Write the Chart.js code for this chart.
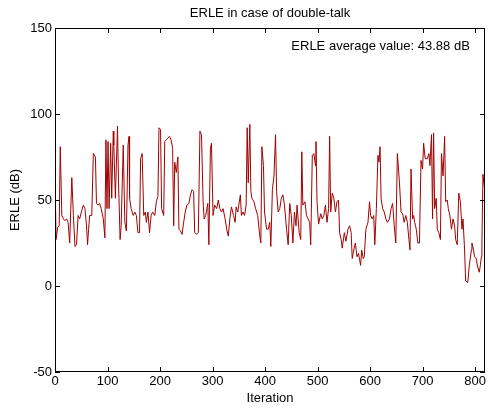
<!DOCTYPE html>
<html>
<head>
<meta charset="utf-8">
<script src="https://cdn.jsdelivr.net/npm/chart.js@4"></script>
<style>
  html, body { margin: 0; padding: 0; background: #fff; }
</style>
</head>
<body>
<canvas id="erleChart" width="488" height="408"></canvas>
<script>
// values
const iterations = [
    0, 2, 5, 8, 10, 13, 16, 19, 22, 25, 28, 32, 35, 38, 41, 44, 47, 51, 54, 57,
    60, 62, 64, 66, 70, 73, 75, 77, 79, 82, 85, 88, 92, 95, 97, 99, 101, 103, 106, 108,
    111, 112, 115, 119, 121, 124, 126, 130, 133, 136, 139, 141, 142, 145, 149, 152, 155, 158, 161, 163,
    166, 169, 172, 174, 177, 180, 183, 186, 190, 193, 196, 198, 201, 203, 207, 209, 212, 215, 218, 221,
    224, 226, 228, 231, 234, 236, 239, 242, 245, 248, 251, 255, 258, 261, 264, 266, 270, 273, 276, 279,
    282, 284, 287, 291, 293, 296, 298, 301, 304, 308, 311, 314, 317, 320, 324, 327, 330, 333, 336, 340,
    343, 345, 348, 350, 353, 355, 358, 361, 364, 366, 368, 371, 373, 375, 379, 382, 386, 390, 392, 394,
    397, 399, 403, 406, 409, 411, 414, 417, 420, 422, 425, 428, 431, 434, 437, 441, 444, 447, 450, 453,
    456, 459, 461, 465, 468, 470, 472, 476, 479, 482, 485, 487, 490, 493, 496, 497, 499, 502, 506, 509,
    512, 515, 518, 521, 523, 525, 528, 531, 534, 537, 540, 542, 545, 547, 551, 554, 558, 561, 564, 566,
    569, 572, 575, 578, 582, 584, 587, 589, 592, 596, 599, 601, 604, 607, 609, 612, 615, 617, 619, 621,
    624, 627, 630, 633, 637, 640, 643, 646, 649, 652, 656, 659, 662, 665, 668, 671, 674, 676, 678, 681,
    683, 685, 688, 691, 694, 697, 700, 702, 705, 709, 712, 714, 717, 719, 721, 723, 726, 728, 731, 734,
    736, 739, 742, 744, 747, 749, 752, 755, 758, 761, 763, 766, 769, 772, 775, 777, 780, 782, 786, 789,
    793, 794, 797, 799, 802, 805, 808, 810, 812, 813, 815, 817, 819
];
const erle = [
    66, 27, 34, 35, 81, 41, 39, 38, 39, 37, 25, 63, 41, 23, 24, 41, 39, 44, 47, 45,
    35, 24, 33, 41, 41, 77, 76, 75, 48, 47, 48, 45, 39, 28, 85, 45, 84, 45, 83, 51,
    90, 82, 51, 93, 60, 27, 35, 82, 37, 32, 82, 87, 51, 45, 41, 43, 41, 31, 31, 74,
    77, 41, 43, 37, 43, 31, 41, 43, 41, 49, 52, 92, 91, 45, 41, 84, 85, 86, 87, 85,
    80, 35, 72, 66, 75, 33, 32, 30, 37, 43, 47, 48, 53, 56, 55, 31, 30, 31, 90, 88,
    49, 39, 41, 48, 24, 80, 83, 41, 47, 45, 50, 45, 43, 45, 39, 33, 29, 39, 46, 41,
    37, 46, 43, 47, 53, 41, 43, 41, 47, 92, 60, 94, 55, 51, 49, 45, 41, 29, 25, 81,
    70, 43, 33, 33, 37, 23, 56, 64, 88, 55, 43, 45, 51, 53, 47, 33, 24, 48, 41, 25,
    43, 35, 47, 31, 27, 78, 47, 49, 41, 39, 37, 24, 76, 77, 70, 84, 49, 36, 42, 39,
    41, 47, 37, 45, 87, 43, 54, 51, 43, 49, 50, 31, 27, 22, 31, 26, 33, 35, 31, 16,
    21, 25, 17, 19, 12, 21, 16, 17, 33, 37, 49, 41, 39, 41, 24, 45, 76, 72, 81, 51,
    45, 43, 39, 37, 39, 45, 48, 35, 25, 77, 60, 43, 42, 37, 41, 37, 27, 21, 68, 39,
    41, 37, 33, 25, 25, 73, 68, 83, 74, 74, 77, 70, 88, 39, 89, 45, 51, 33, 31, 27,
    77, 64, 87, 49, 50, 45, 41, 33, 39, 35, 27, 24, 54, 49, 33, 39, 21, 3, 2, 12,
    21, 25, 21, 17, 16, 11, 8, 12, 17, 25, 65, 59, 55
];
const xTicks = [0, 100, 200, 300, 400, 500, 600, 700, 800];
const yTicks = [-50, 0, 50, 100, 150];
const note = 'ERLE average value: 43.88 dB';

const points = iterations.map((it, i) => ({ x: it, y: erle[i] }));

Chart.defaults.font.family = '"Liberation Sans", Arial, sans-serif';
Chart.defaults.font.size = 13;
Chart.defaults.color = '#000';

// MATLAB-style box with inward ticks on all four sides, plus the average note
const boxPlugin = {
    id: 'boxTicks',
    afterDatasetsDraw(chart) {
        const { ctx, chartArea: a, scales: { x, y } } = chart;
        ctx.save();
        ctx.strokeStyle = '#000';
        ctx.lineWidth = 1;
        ctx.strokeRect(Math.round(a.left) + 0.5, Math.round(a.top) + 0.5,
            Math.round(a.right - a.left) - 1, Math.round(a.bottom - a.top) - 1);
        ctx.beginPath();
        xTicks.forEach(v => {
            const px = Math.round(x.getPixelForValue(v)) + 0.5;
            ctx.moveTo(px, a.bottom); ctx.lineTo(px, a.bottom - 5);
            ctx.moveTo(px, a.top); ctx.lineTo(px, a.top + 5);
        });
        yTicks.forEach(v => {
            const py = Math.round(y.getPixelForValue(v)) + 0.5;
            ctx.moveTo(a.left, py); ctx.lineTo(a.left + 5, py);
            ctx.moveTo(a.right, py); ctx.lineTo(a.right - 5, py);
        });
        ctx.stroke();

        ctx.fillStyle = '#000';
        ctx.font = '13px "Liberation Sans", Arial, sans-serif';
        ctx.textAlign = 'right';
        ctx.textBaseline = 'middle';
        ctx.fillText(note, x.getPixelForValue(790), y.getPixelForValue(139));
        ctx.restore();
    }
};

new Chart(document.getElementById('erleChart'), {
    type: 'line',
    data: {
        datasets: [{
            data: points,
            borderColor: '#a00000',
            borderWidth: 1,
            pointRadius: 0,
            tension: 0,
            fill: false
        }]
    },
    options: {
        responsive: false,
        animation: false,
        devicePixelRatio: 1,
        layout: { padding: { left: 0, right: 1, top: 0, bottom: 0 } },
        plugins: {
            legend: { display: false },
            tooltip: { enabled: false },
            title: {
                display: true,
                text: 'ERLE in case of double-talk',
                fullSize: false,
                font: { size: 13, weight: 'normal' },
                padding: { top: 6, bottom: 6.4 }
            }
        },
        scales: {
            x: {
                type: 'linear',
                min: 0,
                max: 819,
                grid: { display: false, drawTicks: false },
                border: { display: false },
                afterFit: s => { s.height = 36; },
                afterBuildTicks: s => { s.ticks = xTicks.map(v => ({ value: v })); },
                ticks: { padding: 2, maxRotation: 0 },
                title: { display: true, text: 'Iteration', padding: { top: 0, bottom: 2 } }
            },
            y: {
                min: -50,
                max: 150,
                grid: { display: false, drawTicks: false },
                border: { display: false },
                afterFit: s => { s.width = 55; },
                afterBuildTicks: s => { s.ticks = yTicks.map(v => ({ value: v })); },
                ticks: { padding: 3 },
                title: { display: true, text: 'ERLE (dB)', padding: { top: 8, bottom: 0 } }
            }
        }
    },
    plugins: [boxPlugin]
});
</script>
</body>
</html>
